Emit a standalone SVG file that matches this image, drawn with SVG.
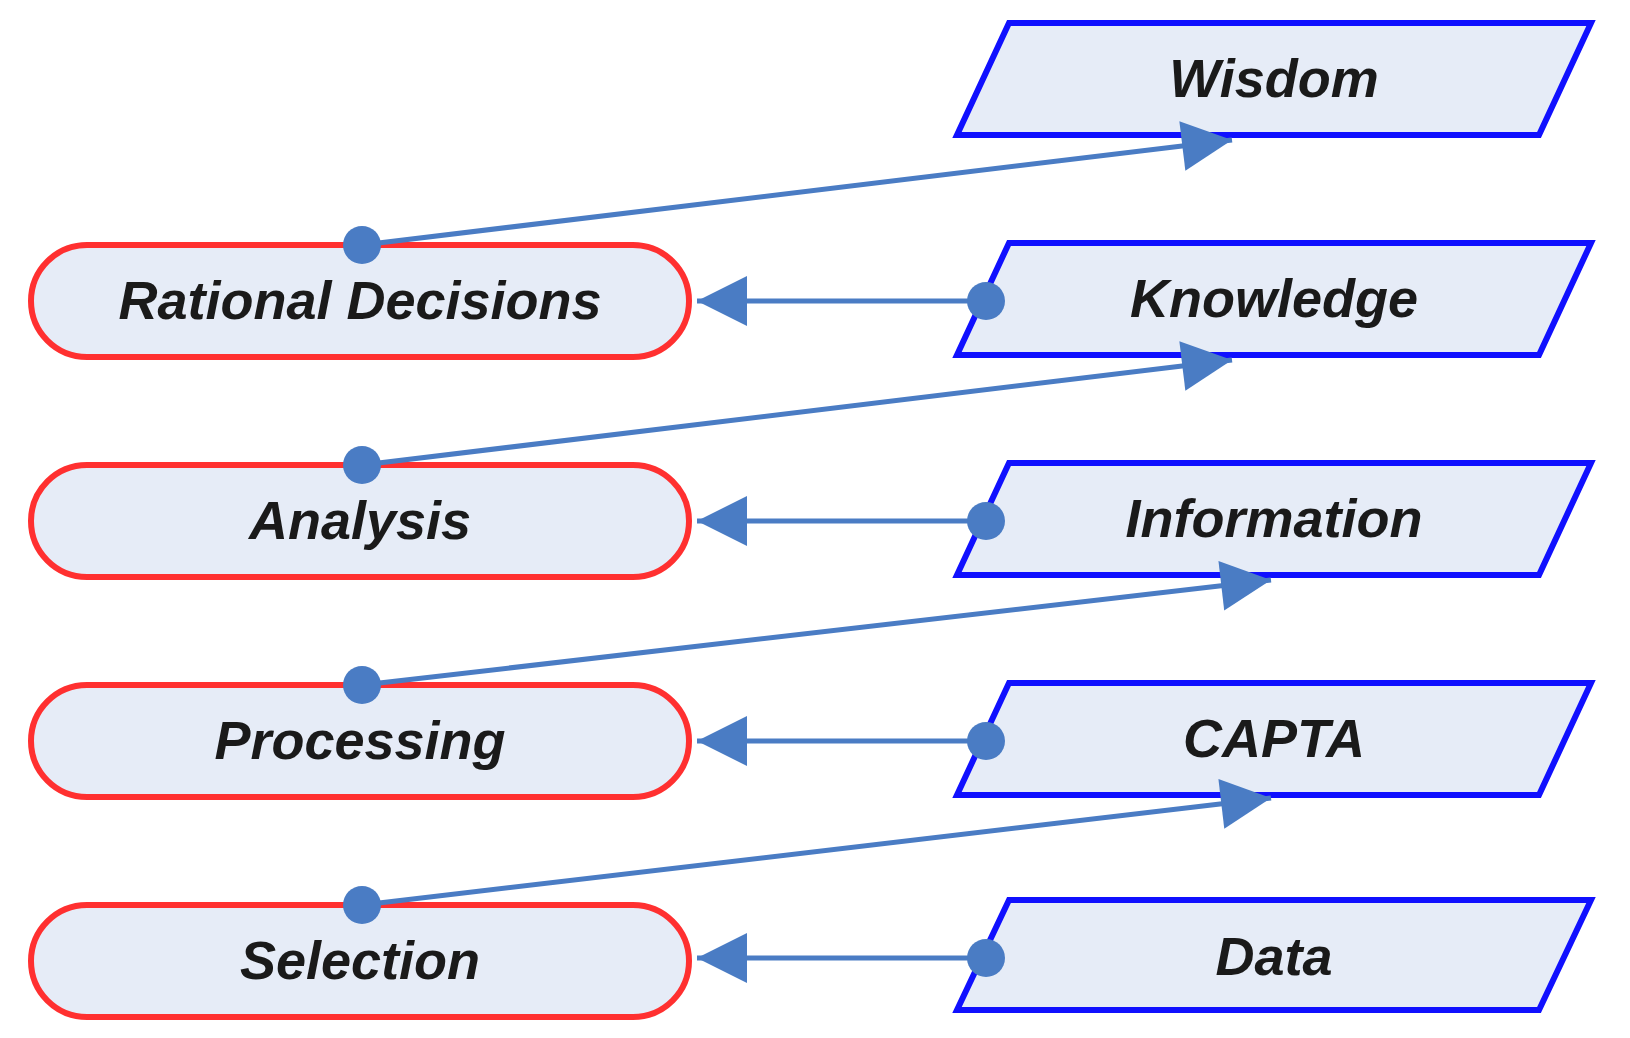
<svg xmlns="http://www.w3.org/2000/svg" width="1630" height="1038" viewBox="0 0 1630 1038">
<style>
.s{fill:#e6ecf7;stroke:#ff3030;stroke-width:6}
.p{fill:#e6ecf7;stroke:#1010ff;stroke-width:6}
.t{font-family:"Liberation Sans",Arial,sans-serif;font-weight:bold;font-style:italic;font-size:54px;fill:#1a1a1a;text-anchor:middle}
.c{stroke:#4a7cc4;stroke-width:5;fill:none}
.d{fill:#4a7cc4}
</style>
<defs>
<marker id="a" markerWidth="10" markerHeight="10" refX="9" refY="5" orient="auto" markerUnits="userSpaceOnUse" viewBox="0 0 10 10"><path d="M0,0L10,5L0,10z" fill="#4a7cc4"/></marker>
<marker id="ah" viewBox="0 0 10 10" refX="10" refY="5" markerWidth="52" markerHeight="50" orient="auto" markerUnits="userSpaceOnUse"><path d="M0,0L10,5L0,10z" fill="#4a7cc4"/></marker>
</defs>
<g id="wisdom"><polygon class="p" points="1009,23 1591,23 1539,135 957,135"/><text class="t" x="1274" y="97">Wisdom</text></g>
<g id="knowledge"><polygon class="p" points="1009,243 1591,243 1539,355 957,355"/><text class="t" x="1274" y="317">Knowledge</text></g>
<g id="information"><polygon class="p" points="1009,463 1591,463 1539,575 957,575"/><text class="t" x="1274" y="537">Information</text></g>
<g id="capta"><polygon class="p" points="1009,683 1591,683 1539,795 957,795"/><text class="t" x="1274" y="757">CAPTA</text></g>
<g id="data"><polygon class="p" points="1009,900 1591,900 1539,1010 957,1010"/><text class="t" x="1274" y="975">Data</text></g>
<g id="rational"><rect class="s" x="31" y="245" width="658" height="112" rx="56"/><text class="t" x="360" y="319">Rational Decisions</text></g>
<g id="analysis"><rect class="s" x="31" y="465" width="658" height="112" rx="56"/><text class="t" x="360" y="539">Analysis</text></g>
<g id="processing"><rect class="s" x="31" y="685" width="658" height="112" rx="56"/><text class="t" x="360" y="759">Processing</text></g>
<g id="selection"><rect class="s" x="31" y="905" width="658" height="112" rx="56"/><text class="t" x="360" y="979">Selection</text></g>
<g id="connectors">
<path class="c" d="M362,245L1232,140" marker-end="url(#ah)"/>
<path class="c" d="M362,465L1232,360" marker-end="url(#ah)"/>
<path class="c" d="M362,685L1271,580" marker-end="url(#ah)"/>
<path class="c" d="M362,905L1271,798" marker-end="url(#ah)"/>
<path class="c" d="M986,301L697,301" marker-end="url(#ah)"/>
<path class="c" d="M986,521L697,521" marker-end="url(#ah)"/>
<path class="c" d="M986,741L697,741" marker-end="url(#ah)"/>
<path class="c" d="M986,958L697,958" marker-end="url(#ah)"/>
<circle class="d" cx="362" cy="245" r="19"/><circle class="d" cx="362" cy="465" r="19"/><circle class="d" cx="362" cy="685" r="19"/><circle class="d" cx="362" cy="905" r="19"/>
<circle class="d" cx="986" cy="301" r="19"/><circle class="d" cx="986" cy="521" r="19"/><circle class="d" cx="986" cy="741" r="19"/><circle class="d" cx="986" cy="958" r="19"/>
</g>
</svg>
